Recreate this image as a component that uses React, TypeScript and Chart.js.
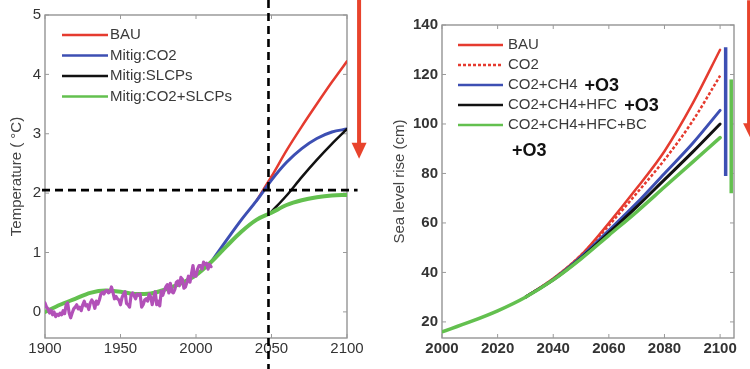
import React, { useEffect, useRef } from "react";
import { Chart, registerables } from "chart.js";

Chart.register(...registerables);

// ---------------- Left panel: temperature ----------------
const OBS_START_YEAR = 1900;
const OBS_TEMP = [
  0.15, 0.08, 0.05, -0.02, 0.03, -0.05, 0.0, -0.08, -0.04, -0.06,
  -0.02, -0.05, 0.02, -0.03, 0.12, 0.15, -0.02, -0.1, -0.02, 0.05,
  0.08, 0.12, 0.05, 0.08, 0.02, 0.12, 0.18, 0.1, 0.12, 0.04,
  0.15, 0.2, 0.16, 0.06, 0.18, 0.13, 0.2, 0.3, 0.33, 0.3,
  0.35, 0.36, 0.32, 0.34, 0.42, 0.33, 0.22, 0.26, 0.22, 0.2,
  0.12, 0.24, 0.3, 0.34, 0.14, 0.12, 0.08, 0.28, 0.32, 0.27,
  0.22, 0.3, 0.28, 0.3, 0.08, 0.12, 0.2, 0.22, 0.18, 0.3,
  0.25, 0.12, 0.24, 0.34, 0.12, 0.18, 0.1, 0.35, 0.28, 0.36,
  0.42, 0.46, 0.32, 0.48, 0.34, 0.32, 0.38, 0.5, 0.52, 0.44,
  0.58, 0.55, 0.4, 0.42, 0.5, 0.6, 0.5, 0.64, 0.78, 0.6,
  0.6, 0.72, 0.78, 0.78, 0.72, 0.84, 0.8, 0.82, 0.72, 0.8,
  0.76,
];

const GREEN_YEARS = [1900, 1910, 1920, 1930, 1940, 1950, 1960, 1970, 1980, 1990, 2000, 2010, 2020, 2030, 2040, 2050, 2060, 2070, 2080, 2090, 2100];
const GREEN_TEMP = [0.0, 0.12, 0.22, 0.32, 0.36, 0.34, 0.3, 0.31, 0.38, 0.48, 0.62, 0.84, 1.1, 1.35, 1.55, 1.67, 1.8, 1.88, 1.93, 1.96, 1.97];

const BLUE_YEARS = [2010, 2020, 2030, 2040, 2050, 2060, 2070, 2080, 2090, 2100];
const BLUE_TEMP = [0.84, 1.2, 1.55, 1.87, 2.22, 2.52, 2.75, 2.92, 3.03, 3.08];

const RED_YEARS = [2040, 2050, 2060, 2070, 2080, 2090, 2100];
const RED_TEMP = [1.87, 2.28, 2.72, 3.12, 3.5, 3.87, 4.22];

const BLACK_YEARS = [2049, 2060, 2070, 2080, 2090, 2100];
const BLACK_TEMP = [1.66, 1.96, 2.27, 2.56, 2.83, 3.08];

const LEFT_X_TICKS = [1900, 1950, 2000, 2050, 2100];
const LEFT_Y_TICKS = [0, 1, 2, 3, 4, 5];
const LEFT_LABELS = ["BAU", "Mitig:CO2", "Mitig:SLCPs", "Mitig:CO2+SLCPs"];
const LEFT_Y_TITLE = "Temperature ( °C)";
const REF_YEAR = 2048;
const REF_TEMP = 2.05;
const LEFT_ARROW = { year: 2108, from: 5.3, to: 2.58 };

// ---------------- Right panel: sea level ----------------
const SLR_YEARS = [2000, 2010, 2020, 2030, 2040, 2050, 2060, 2070, 2080, 2090, 2100];
const SLR_BC = [16, 20, 24.5, 30, 37, 45.5, 55, 64.5, 74.5, 84.5, 94.5];
const SLR_LATE_YEARS = [2030, 2040, 2050, 2060, 2070, 2080, 2090, 2100];
const SLR_BAU = [30, 37.5, 47, 60, 74, 89, 108, 130];
const SLR_CO2 = [30, 37.5, 47, 59, 72, 85.5, 101, 119.5];
const SLR_CH4 = [30, 37.2, 46.3, 57, 68, 80, 92, 105.5];
const SLR_HFC = [30, 37, 45.8, 56, 66.5, 77.5, 88.5, 100];
const RANGE_CH4_YEAR = 2102;
const RANGE_CH4 = [131, 79];
const RANGE_BC_YEAR = 2104;
const RANGE_BC = [118, 72];
const RIGHT_X_TICKS = [2000, 2020, 2040, 2060, 2080, 2100];
const RIGHT_Y_TICKS = [20, 40, 60, 80, 100, 120, 140];
const RIGHT_LABELS = ["BAU", "CO2", "CO2+CH4", "CO2+CH4+HFC", "CO2+CH4+HFC+BC"];
const O3_TAG = "+O3";
const RIGHT_Y_TITLE = "Sea level rise (cm)";
const RIGHT_ARROW = { year: 2111.5, from: 150, to: 93 };

// ---------------- styling ----------------
const FONT = "'Liberation Sans', Arial, Helvetica, sans-serif";
const RED = "#e53b2f";
const BLUE = "#3d4fb3";
const BLACK = "#111111";
const GREEN = "#63c04f";
const PURPLE = "#b251b8";
const TEXT = "#333333";

const zip = (xs: number[], ys: number[]) => xs.map((x, i) => ({ x, y: ys[i] }));

function line(label: string, data: any[], color: string, width: number, extra: any = {}) {
  return {
    label,
    data,
    borderColor: color,
    backgroundColor: color,
    borderWidth: width,
    pointRadius: 0,
    fill: false,
    cubicInterpolationMode: "monotone",
    borderCapStyle: "round",
    borderJoinStyle: "round",
    ...extra,
  };
}

function framePlugin(xTicks: number[], yTicks: number[]) {
  return {
    id: "frame",
    beforeDatasetsDraw(chart: any) {
      const { ctx, chartArea: a, scales } = chart;
      ctx.save();
      ctx.strokeStyle = "#8c8c8c";
      ctx.lineWidth = 1.3;
      ctx.strokeRect(a.left, a.top, a.right - a.left, a.bottom - a.top);
      ctx.strokeStyle = "#9a9a9a";
      ctx.lineWidth = 1;
      ctx.beginPath();
      for (const v of xTicks) {
        const px = scales.x.getPixelForValue(v);
        ctx.moveTo(px, a.bottom);
        ctx.lineTo(px, a.bottom - 4);
        ctx.moveTo(px, a.top);
        ctx.lineTo(px, a.top + 4);
      }
      for (const v of yTicks) {
        const py = scales.y.getPixelForValue(v);
        ctx.moveTo(a.left, py);
        ctx.lineTo(a.left + 4, py);
        ctx.moveTo(a.right, py);
        ctx.lineTo(a.right - 4, py);
      }
      ctx.stroke();
      ctx.restore();
    },
  };
}

type LegendItem = { label: string; color: string; width: number; dash?: number[]; tag?: string; tagBelow?: boolean };

function legendPlugin(items: LegendItem[], x0: number, x1: number, tOff: number, y0: number, dy: number) {
  return {
    id: "customLegend",
    afterDatasetsDraw(chart: any) {
      const { ctx, chartArea: a } = chart;
      ctx.save();
      items.forEach((it, i) => {
        const y = a.top + y0 + i * dy;
        ctx.strokeStyle = it.color;
        ctx.lineWidth = it.width;
        ctx.setLineDash(it.dash || []);
        ctx.beginPath();
        ctx.moveTo(a.left + x0, y);
        ctx.lineTo(a.left + x1, y);
        ctx.stroke();
        ctx.setLineDash([]);
        ctx.font = `15px ${FONT}`;
        ctx.fillStyle = "#3a3a3a";
        ctx.textBaseline = "middle";
        ctx.textAlign = "left";
        const tx = a.left + tOff;
        ctx.fillText(it.label, tx, y);
        if (it.tag) {
          const w = ctx.measureText(it.label).width;
          ctx.font = `bold 18px ${FONT}`;
          ctx.fillStyle = "#111";
          if (it.tagBelow) ctx.fillText(it.tag, tx + 4, y + 26);
          else ctx.fillText(it.tag, tx + w + 7, y + 1);
        }
      });
      ctx.restore();
    },
  };
}

function arrowPlugin(arrow: { year: number; from: number; to: number }, shaftW: number, headW: number, headH: number) {
  return {
    id: "arrow",
    afterDraw(chart: any) {
      const { ctx, scales } = chart;
      const cx = scales.x.getPixelForValue(arrow.year);
      const y1 = scales.y.getPixelForValue(arrow.from);
      const y2 = scales.y.getPixelForValue(arrow.to);
      ctx.save();
      ctx.fillStyle = "#e8432c";
      ctx.fillRect(cx - shaftW / 2, y1, shaftW, y2 - headH - y1 + 1);
      ctx.beginPath();
      ctx.moveTo(cx - headW / 2, y2 - headH);
      ctx.lineTo(cx + headW / 2, y2 - headH);
      ctx.lineTo(cx, y2);
      ctx.closePath();
      ctx.fill();
      ctx.restore();
    },
  };
}

const refLinesPlugin = {
  id: "refLines",
  afterDraw(chart: any) {
    const { ctx, chartArea: a, scales } = chart;
    const px = scales.x.getPixelForValue(REF_YEAR);
    const py = scales.y.getPixelForValue(REF_TEMP);
    ctx.save();
    ctx.strokeStyle = "#000";
    ctx.lineWidth = 2.6;
    ctx.setLineDash([8, 5]);
    ctx.beginPath();
    ctx.moveTo(a.left - 3, py);
    ctx.lineTo(scales.x.getPixelForValue(2107), py);
    ctx.stroke();
    ctx.beginPath();
    ctx.moveTo(px, 0);
    ctx.lineTo(px, chart.height);
    ctx.stroke();
    ctx.restore();
  },
};

function axes(xMin: number, xMax: number, yMin: number, yMax: number, xTicks: number[], yTicks: number[], yWidth: number, title: string, titlePad: number, bold: boolean) {
  const tickFont = { family: FONT, size: 15, weight: bold ? "bold" : "normal" };
  return {
    x: {
      type: "linear",
      min: xMin,
      max: xMax,
      grid: { display: false, drawTicks: false },
      border: { display: false },
      ticks: { color: TEXT, font: tickFont, padding: 2, maxRotation: 0, autoSkip: false, callback: (v: number) => String(v) },
      afterBuildTicks: (s: any) => { s.ticks = xTicks.map((value) => ({ value })); },
      afterFit: (s: any) => { s.height = 31; },
    },
    y: {
      type: "linear",
      min: yMin,
      max: yMax,
      grid: { display: false, drawTicks: false },
      border: { display: false },
      ticks: { color: TEXT, font: tickFont, padding: 4, autoSkip: false },
      afterBuildTicks: (s: any) => { s.ticks = yTicks.map((value) => ({ value })); },
      afterFit: (s: any) => { s.width = yWidth; },
      title: { display: true, text: title, color: "#444", font: { family: FONT, size: 15 }, padding: { top: titlePad, bottom: 0 } },
    },
  };
}

function leftConfig(): any {
  const obs = OBS_TEMP.map((y, i) => ({ x: OBS_START_YEAR + i, y }));
  return {
    type: "line",
    data: {
      datasets: [
        line("Observed", obs, PURPLE, 3.2, { cubicInterpolationMode: "default", tension: 0 }),
        line(LEFT_LABELS[3], zip(GREEN_YEARS, GREEN_TEMP), GREEN, 4),
        line(LEFT_LABELS[2], zip(BLACK_YEARS, BLACK_TEMP), BLACK, 2.5),
        line(LEFT_LABELS[1], zip(BLUE_YEARS, BLUE_TEMP), BLUE, 3),
        line(LEFT_LABELS[0], zip(RED_YEARS, RED_TEMP), RED, 2.5),
      ],
    },
    options: {
      animation: false,
      responsive: true,
      maintainAspectRatio: false,
      layout: { padding: { top: 15, right: 28, left: 0, bottom: 0 } },
      plugins: { legend: { display: false }, tooltip: { enabled: false } },
      scales: axes(1900, 2100, -0.44, 5, LEFT_X_TICKS, LEFT_Y_TICKS, 45, LEFT_Y_TITLE, 8, false),
    },
    plugins: [
      framePlugin(LEFT_X_TICKS, LEFT_Y_TICKS),
      legendPlugin(
        [
          { label: LEFT_LABELS[0], color: RED, width: 2.5 },
          { label: LEFT_LABELS[1], color: BLUE, width: 2.5 },
          { label: LEFT_LABELS[2], color: BLACK, width: 2.5 },
          { label: LEFT_LABELS[3], color: GREEN, width: 2.5 },
        ],
        17, 63, 65, 20, 20.5
      ),
      refLinesPlugin,
      arrowPlugin(LEFT_ARROW, 4, 15, 16),
    ],
  };
}

function rightConfig(): any {
  return {
    type: "line",
    data: {
      datasets: [
        line(RIGHT_LABELS[4], zip(SLR_YEARS, SLR_BC), GREEN, 3.5),
        line(RIGHT_LABELS[3], zip(SLR_LATE_YEARS, SLR_HFC), BLACK, 3),
        line(RIGHT_LABELS[2], zip(SLR_LATE_YEARS, SLR_CH4), BLUE, 3),
        line(RIGHT_LABELS[1], zip(SLR_LATE_YEARS, SLR_CO2), RED, 2.5, { borderDash: [3, 2], borderCapStyle: "butt" }),
        line(RIGHT_LABELS[0], zip(SLR_LATE_YEARS, SLR_BAU), RED, 2.5),
        line("range CH4", RANGE_CH4.map((y) => ({ x: RANGE_CH4_YEAR, y })), BLUE, 3.5, { borderCapStyle: "butt" }),
        line("range BC", RANGE_BC.map((y) => ({ x: RANGE_BC_YEAR, y })), GREEN, 3.5, { borderCapStyle: "butt" }),
      ],
    },
    options: {
      animation: false,
      responsive: true,
      maintainAspectRatio: false,
      layout: { padding: { top: 25, right: 16, left: 0, bottom: 0 } },
      plugins: { legend: { display: false }, tooltip: { enabled: false } },
      scales: axes(2000, 2105, 13.5, 140, RIGHT_X_TICKS, RIGHT_Y_TICKS, 67, RIGHT_Y_TITLE, 16, true),
    },
    plugins: [
      framePlugin(RIGHT_X_TICKS, RIGHT_Y_TICKS),
      legendPlugin(
        [
          { label: RIGHT_LABELS[0], color: RED, width: 2.5 },
          { label: RIGHT_LABELS[1], color: RED, width: 2.5, dash: [3, 2] },
          { label: RIGHT_LABELS[2], color: BLUE, width: 2.5, tag: O3_TAG },
          { label: RIGHT_LABELS[3], color: BLACK, width: 2.5, tag: O3_TAG },
          { label: RIGHT_LABELS[4], color: GREEN, width: 2.5, tag: O3_TAG, tagBelow: true },
        ],
        16, 61, 66, 20, 20
      ),
      arrowPlugin(RIGHT_ARROW, 10, 18, 18),
    ],
  };
}

export default function App() {
  const leftRef = useRef<HTMLCanvasElement>(null);
  const rightRef = useRef<HTMLCanvasElement>(null);

  useEffect(() => {
    Chart.defaults.font.family = FONT;
    const c1 = new Chart(leftRef.current as HTMLCanvasElement, leftConfig());
    const c2 = new Chart(rightRef.current as HTMLCanvasElement, rightConfig());
    return () => {
      c1.destroy();
      c2.destroy();
    };
  }, []);

  return (
    <div style={{ position: "fixed", left: 0, top: 0, width: 750, height: 369, background: "#fff", overflow: "hidden" }}>
      <div style={{ position: "absolute", left: 0, top: 0, width: 375, height: 369 }}>
        <canvas ref={leftRef} />
      </div>
      <div style={{ position: "absolute", left: 375, top: 0, width: 375, height: 369 }}>
        <canvas ref={rightRef} />
      </div>
    </div>
  );
}
